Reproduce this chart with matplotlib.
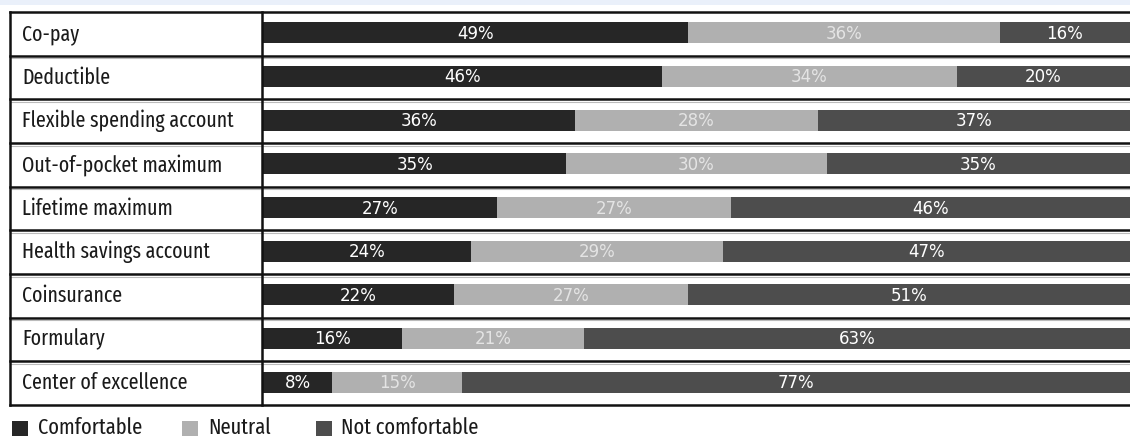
import matplotlib.pyplot as plt
from matplotlib.patches import Rectangle

categories = ['Co-pay', 'Deductible', 'Flexible spending account', 'Out-of-pocket maximum',
              'Lifetime maximum', 'Health savings account', 'Coinsurance', 'Formulary',
              'Center of excellence']
comfortable = [49, 46, 36, 35, 27, 24, 22, 16, 8]
neutral = [36, 34, 28, 30, 27, 29, 27, 21, 15]
not_comfortable = [16, 20, 37, 35, 46, 47, 51, 63, 77]
series_names = ['Comfortable', 'Neutral', 'Not comfortable']

colors = ['#262626', '#b0b0b0', '#4d4d4d']
text_colors = ['white', '#e4e4e4', 'white']
label_font = ['Fira Sans Extra Condensed', 'Roboto Condensed', 'DejaVu Sans']
pct_font = ['DejaVu Sans']

W, H = 1130, 443
fig = plt.figure(figsize=(W / 100, H / 100), dpi=100)
fig.patch.set_facecolor('white')

def fx(px):
    return px / W

def fy(py):
    return 1 - py / H

# light strip at the top
fig.patches.append(Rectangle((0, fy(5)), 1, 5 / H, transform=fig.transFigure,
                             facecolor='#eaf0fa', edgecolor='none'))

top, bottom = 12, 405
left, mid = 10, 263
n = len(categories)

ax_lab = fig.add_axes([fx(left), fy(bottom), fx(mid - left), (bottom - top) / H])
ax = fig.add_axes([fx(mid), fy(bottom), fx(W - mid), (bottom - top) / H])

for a in (ax_lab, ax):
    a.set_ylim(n, 0)
    a.set_xticks([])
    a.set_yticks([])
    for s in a.spines.values():
        s.set_visible(False)

ax_lab.set_xlim(0, 1)
ax.set_xlim(0, 100)

# labels column
for i, c in enumerate(categories):
    ax_lab.text(0.047, i + 0.5, c, va='center', ha='left', fontsize=15.5,
                family=label_font, color='#1a1a1a')

# stacked bars
ypos = [i + 0.48 for i in range(n)]
left_acc = [0] * n
for vals, col, tcol, name in zip([comfortable, neutral, not_comfortable], colors,
                                 text_colors, series_names):
    ax.barh(ypos, vals, left=left_acc, height=0.48, color=col, label=name)
    for i, v in enumerate(vals):
        start = left_acc[i]
        end = min(start + v, 100)
        ax.text((start + end) / 2, ypos[i] + 0.02, f'{v}%', ha='center', va='center',
                color=tcol, fontsize=12, family=pct_font)
    left_acc = [a + b for a, b in zip(left_acc, vals)]

# row separators and borders
for i in range(n + 1):
    y = fy(top + i * (bottom - top) / n)
    fig.add_artist(plt.Line2D([fx(left), 1], [y, y], color='#111111', lw=1.8))
    if 0 < i < n:
        fig.add_artist(plt.Line2D([fx(left), 1], [y - 2.5 / H, y - 2.5 / H],
                                  color='#bbbbbb', lw=0.8))
fig.add_artist(plt.Line2D([fx(left), fx(left)], [fy(top), fy(bottom)], color='#111111', lw=1.8))
fig.add_artist(plt.Line2D([fx(mid - 1), fx(mid - 1)], [fy(top), fy(bottom)], color='#111111', lw=1.8))

# legend
leg_items = [(12, 38), (182, 208), (316, 341)]
for (sx, tx), col, name in zip(leg_items, colors, series_names):
    fig.patches.append(Rectangle((fx(sx), fy(436)), fx(16), 15 / H,
                                 transform=fig.transFigure, facecolor=col, edgecolor='none'))
    fig.text(fx(tx), fy(428), name, ha='left', va='center', fontsize=16,
             family=label_font, color='#1a1a1a')

fig.savefig('out.png', dpi=100)
